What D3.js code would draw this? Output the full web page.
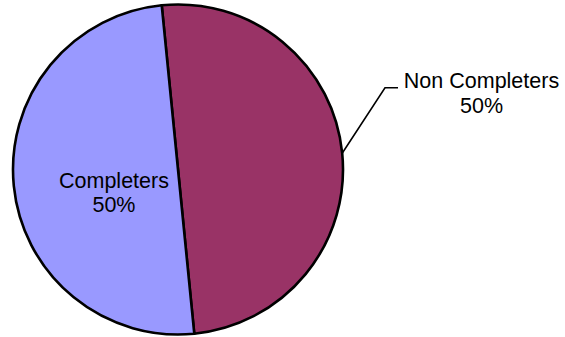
<!DOCTYPE html>
<html>
<head>
<meta charset="utf-8">
<script src="https://cdn.jsdelivr.net/npm/d3@7"></script>
<style>
  html, body { margin: 0; padding: 0; background: #fff; }
  svg { display: block; }
  text { font-family: "Liberation Sans", Arial, sans-serif; fill: #000; }
</style>
</head>
<body>
<svg id="chart" width="565" height="337"></svg>
<script>
// Completion outcome shares
const categories = ["Non Completers", "Completers"];
const values = [50, 50];
const percentLabels = ["50%", "50%"];
const colors = ["#993366", "#9999FF"];

const svg = d3.select("#chart");
const cx = 178, cy = 169.5, radius = 165;
const rotation = -5.66 * Math.PI / 180;

const pie = d3.pie()
  .sort(null)
  .value(d => d)
  .startAngle(rotation)
  .endAngle(rotation + 2 * Math.PI);

const arcs = pie(values);
const arc = d3.arc().innerRadius(0).outerRadius(radius);

const g = svg.append("g").attr("transform", `translate(${cx},${cy})`);

g.selectAll("path.slice")
  .data(arcs)
  .join("path")
  .attr("class", "slice")
  .attr("d", arc)
  .attr("fill", (d, i) => colors[i])
  .attr("stroke", "#000")
  .attr("stroke-width", 2.6)
  .attr("stroke-linejoin", "round");

const fontSize = 21.5;

// Outside label with leader line for the first slice
const a0 = arcs[0];
const mid0 = (a0.startAngle + a0.endAngle) / 2;
const edge = [Math.sin(mid0) * radius, -Math.cos(mid0) * radius];
const elbow = [207, -81.8];
const tail = [220, -81.8];

g.append("polyline")
  .attr("points", [edge, elbow, tail].map(p => p.join(",")).join(" "))
  .attr("fill", "none")
  .attr("stroke", "#000")
  .attr("stroke-width", 1.6);

const outer = g.append("text")
  .attr("text-anchor", "middle")
  .attr("font-size", fontSize);
outer.append("tspan").attr("x", 303.5).attr("y", -81.5).text(categories[0]);
outer.append("tspan").attr("x", 303.5).attr("y", -56.5).text(percentLabels[0]);

// Inside label for the second slice
const a1 = arcs[1];
const mid1 = (a1.startAngle + a1.endAngle) / 2;
const lx = Math.sin(mid1) * radius * 0.39;
const inner = g.append("text")
  .attr("text-anchor", "middle")
  .attr("font-size", fontSize);
inner.append("tspan").attr("x", lx).attr("y", 18).text(categories[1]);
inner.append("tspan").attr("x", lx).attr("y", 42.5).text(percentLabels[1]);
</script>
</body>
</html>
